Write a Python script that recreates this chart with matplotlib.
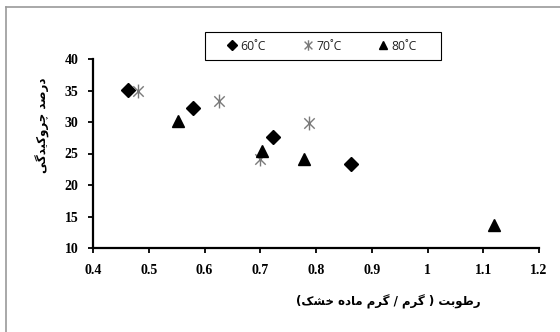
import matplotlib
matplotlib.use("Agg")
import matplotlib.pyplot as plt
from matplotlib.lines import Line2D
from matplotlib.patches import Rectangle
from matplotlib.path import Path

# ---- data ----
x60 = [0.463, 0.580, 0.722, 0.862]
y60 = [35.1, 32.2, 27.6, 23.3]
x70 = [0.480, 0.626, 0.700, 0.788]
y70 = [34.9, 33.3, 24.1, 29.8]
x80 = [0.553, 0.703, 0.779, 1.119]
y80 = [30.1, 25.4, 24.1, 13.7]
labels = ["60˚C", "70˚C", "80˚C"]
xticks = [0.4, 0.5, 0.6, 0.7, 0.8, 0.9, 1.0, 1.1, 1.2]
xticklabels = ["0.4", "0.5", "0.6", "0.7", "0.8", "0.9", "1", "1.1", "1.2"]
yticks = [10, 15, 20, 25, 30, 35, 40]
xlabel_fa = "رطوبت ( گرم / گرم ماده خشک)"
ylabel_fa = "درصد چروکیدگی"

# ---- minimal Persian shaping (presentation forms, visual order) ----
FORMS = {
    'ا': ('\uFE8D', '\uFE8E', None, None),
    'ب': ('\uFE8F', '\uFE90', '\uFE91', '\uFE92'),
    'ت': ('\uFE95', '\uFE96', '\uFE97', '\uFE98'),
    'خ': ('\uFEA5', '\uFEA6', '\uFEA7', '\uFEA8'),
    'د': ('\uFEA9', '\uFEAA', None, None),
    'ر': ('\uFEAD', '\uFEAE', None, None),
    'ش': ('\uFEB5', '\uFEB6', '\uFEB7', '\uFEB8'),
    'ص': ('\uFEB9', '\uFEBA', '\uFEBB', '\uFEBC'),
    'ط': ('\uFEC1', '\uFEC2', '\uFEC3', '\uFEC4'),
    'م': ('\uFEE1', '\uFEE2', '\uFEE3', '\uFEE4'),
    'ه': ('\uFEE9', '\uFEEA', '\uFEEB', '\uFEEC'),
    'و': ('\uFEED', '\uFEEE', None, None),
    'چ': ('\uFB7A', '\uFB7B', '\uFB7C', '\uFB7D'),
    'ک': ('\uFB8E', '\uFB8F', '\uFB90', '\uFB91'),
    'گ': ('\uFB92', '\uFB93', '\uFB94', '\uFB95'),
    'ی': ('\uFBFC', '\uFBFD', '\uFBFE', '\uFBFF'),
}
MIRROR = {'(': ')', ')': '('}


def dual(c):
    return c in FORMS and FORMS[c][2] is not None


def shape(s):
    out = []
    for i, c in enumerate(s):
        if c not in FORMS:
            out.append(MIRROR.get(c, c))
            continue
        prev = s[i - 1] if i > 0 else ''
        nxt = s[i + 1] if i + 1 < len(s) else ''
        jp = dual(prev)
        jn = dual(c) and nxt in FORMS
        iso, fin, ini, med = FORMS[c]
        if jp and jn:
            out.append(med)
        elif jp:
            out.append(fin)
        elif jn:
            out.append(ini)
        else:
            out.append(iso)
    return ''.join(reversed(out))


star = Path([(0, -1), (0, 1), (-0.75, -0.75), (0.75, 0.75), (-0.75, 0.75), (0.75, -0.75)],
            [Path.MOVETO, Path.LINETO, Path.MOVETO, Path.LINETO, Path.MOVETO, Path.LINETO])

W, H = 560, 332
fig = plt.figure(figsize=(W / 100, H / 100), dpi=100)
ax = fig.add_axes([93 / W, 1 - 248 / H, (539 - 93) / W, (248 - 59) / H])

ax.plot(x60, y60, linestyle='none', marker='D', markersize=6.8, color='black', label=labels[0])
ax.plot(x70, y70, linestyle='none', marker=star, markersize=10, color='#7a7a7a',
        markeredgewidth=1.0, label=labels[1])
ax.plot(x80, y80, linestyle='none', marker='^', markersize=8, color='black', label=labels[2])

ax.set_xlim(0.4, 1.2)
ax.set_ylim(10, 40)
ax.set_xticks(xticks)
ax.set_xticklabels(xticklabels)
ax.set_yticks(yticks)
for s in ['top', 'right']:
    ax.spines[s].set_visible(False)
for s in ['left', 'bottom']:
    ax.spines[s].set_linewidth(1.6)
ax.tick_params(direction='out', length=3.5, width=1.3, colors='black')
ax.tick_params(axis='y', pad=7)
ax.tick_params(axis='x', pad=8)
for lab in ax.get_xticklabels() + ax.get_yticklabels():
    lab.set_fontfamily('Liberation Serif')
    lab.set_fontweight('bold')
    lab.set_fontsize(10)

fig.text(388 / W, 1 - 302 / H, shape(xlabel_fa), ha='center', va='center',
         fontsize=8.5, family='DejaVu Sans', fontweight='bold')
fig.text(43 / W, 1 - 125 / H, shape(ylabel_fa), ha='center', va='center',
         rotation=90, fontsize=8.5, family='DejaVu Sans', fontweight='bold')

leg = fig.legend(loc='center', bbox_to_anchor=(322 / W, 1 - 46 / H), ncol=3,
                 frameon=False, markerscale=0.75,
                 handlelength=0.8, handletextpad=0.3, columnspacing=3.0,
                 borderpad=0.6, prop={'family': 'Open Sans', 'size': 8.8})
for t in leg.get_texts():
    t.set_color('#222222')
fig.add_artist(Rectangle((205 / W, 1 - 60 / H), (441 - 205) / W, (60 - 32) / H,
                         transform=fig.transFigure, fill=False, edgecolor='black', lw=0.8))

# outer chart frame (light gray)
fig.add_artist(Line2D([5.5 / W, 5.5 / W], [0, 1 - 6.5 / H], transform=fig.transFigure,
                      color='#9a9a9a', lw=1.2))
fig.add_artist(Line2D([5.5 / W, 1], [1 - 6.5 / H, 1 - 6.5 / H], transform=fig.transFigure,
                      color='#9a9a9a', lw=1.2))

fig.savefig('out.png', dpi=100)
